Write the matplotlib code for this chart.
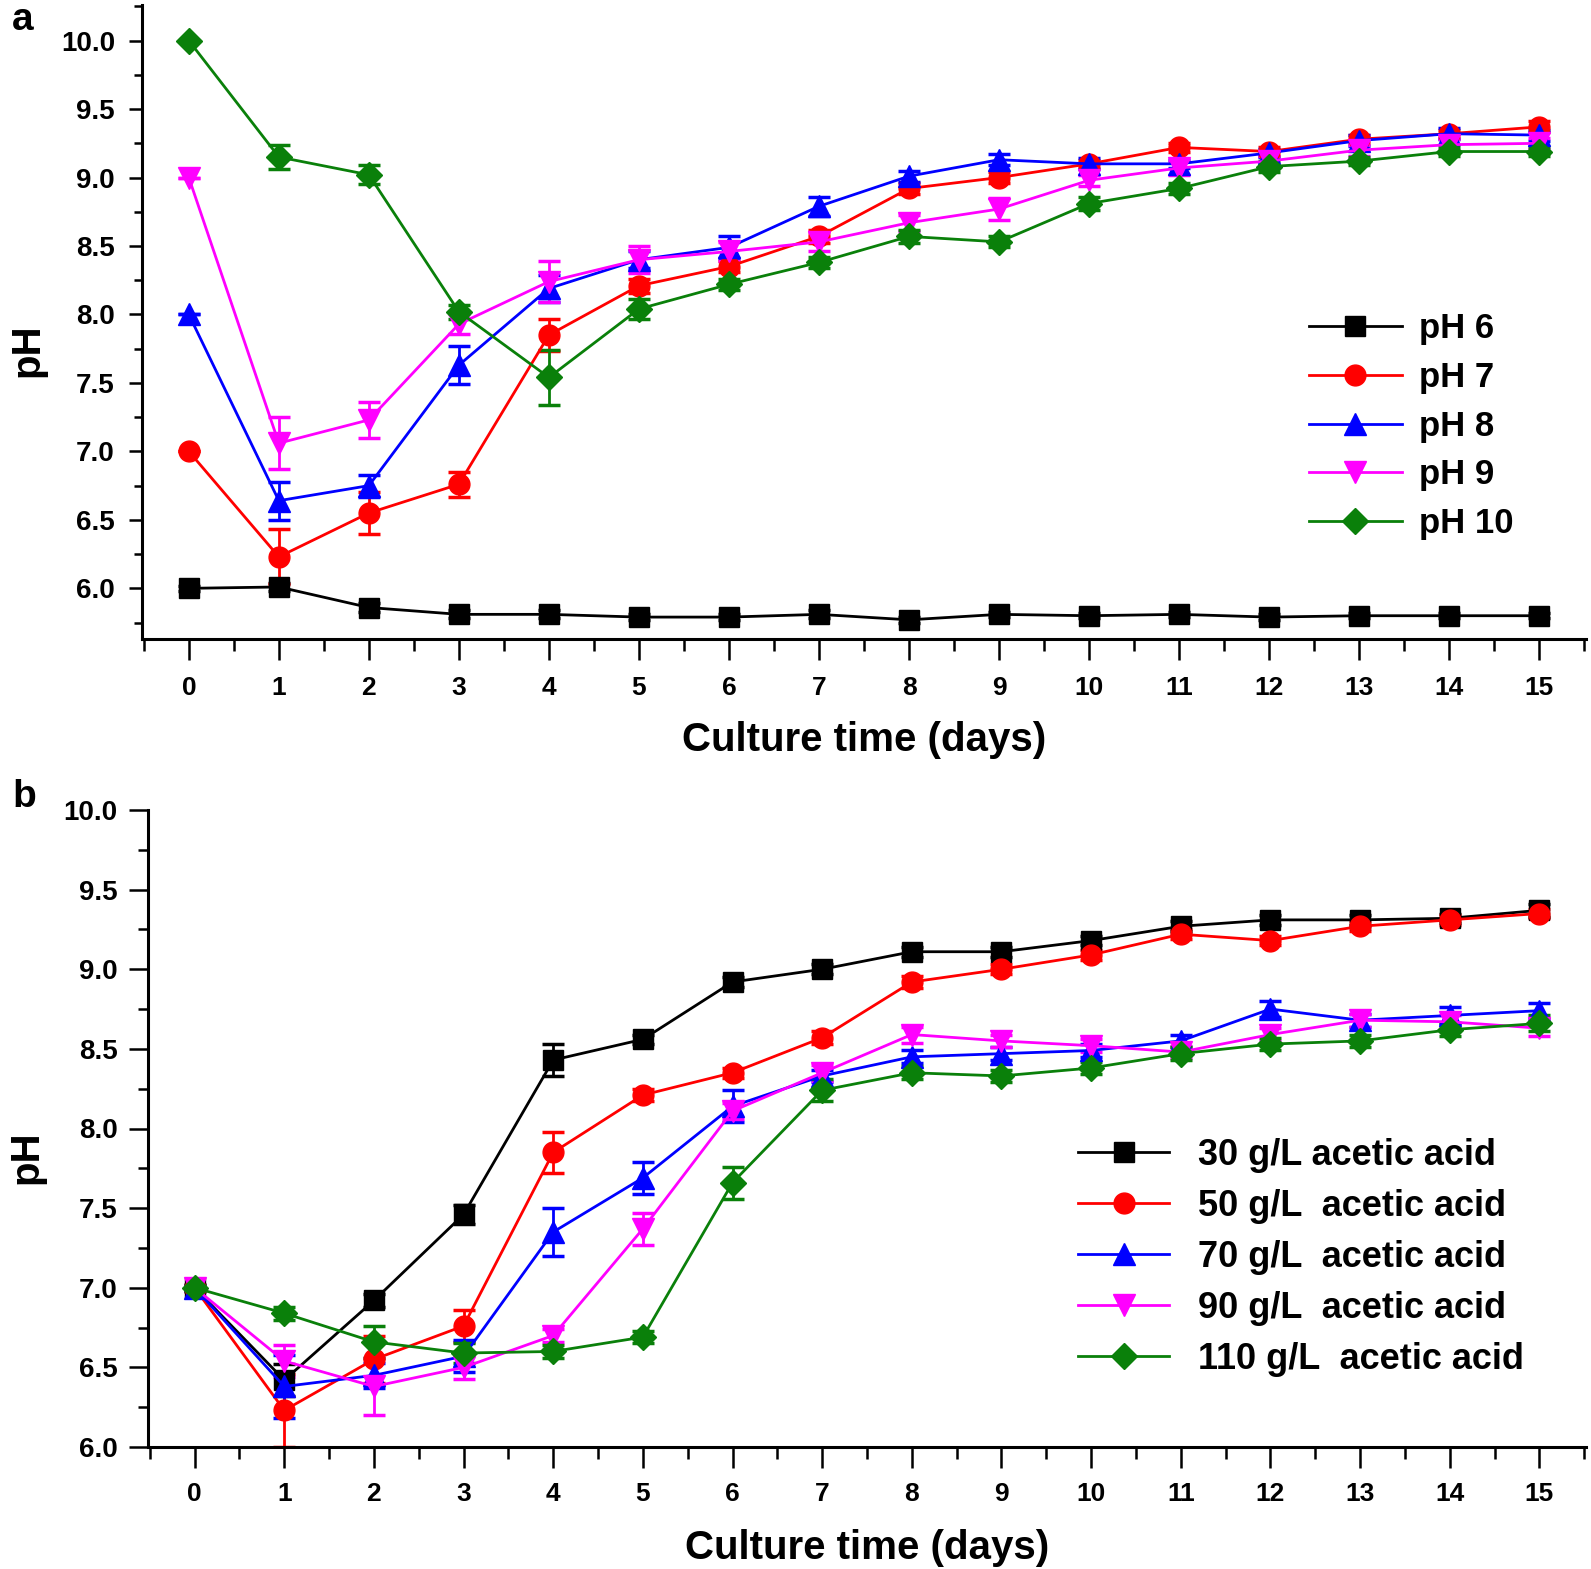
import matplotlib
matplotlib.use('Agg')
import matplotlib.pyplot as plt
from matplotlib.ticker import MultipleLocator

plt.rcParams['font.family'] = ['Liberation Sans', 'DejaVu Sans']

days = list(range(16))

# ---------------- Panel a data ----------------
ph_labels = ['pH 6', 'pH 7', 'pH 8', 'pH 9', 'pH 10']
ph6 = [6.00, 6.01, 5.86, 5.81, 5.81, 5.79, 5.79, 5.81, 5.77, 5.81, 5.80, 5.81, 5.79, 5.80, 5.80, 5.80]
ph7 = [7.00, 6.23, 6.55, 6.76, 7.85, 8.21, 8.35, 8.57, 8.92, 9.00, 9.10, 9.22, 9.19, 9.28, 9.32, 9.37]
ph8 = [8.00, 6.64, 6.75, 7.63, 8.19, 8.40, 8.49, 8.79, 9.01, 9.13, 9.10, 9.10, 9.18, 9.27, 9.32, 9.31]
ph9 = [9.00, 7.06, 7.23, 7.93, 8.24, 8.40, 8.46, 8.53, 8.67, 8.77, 8.98, 9.07, 9.12, 9.20, 9.24, 9.25]
ph10 = [10.00, 9.15, 9.02, 8.02, 7.54, 8.04, 8.22, 8.38, 8.57, 8.53, 8.81, 8.92, 9.08, 9.12, 9.19, 9.19]

ph6_err = [0.02, 0.03, 0.03, 0.03, 0.03, 0.02, 0.02, 0.03, 0.02, 0.02, 0.02, 0.02, 0.02, 0.02, 0.02, 0.02]
ph7_err = [0.00, 0.20, 0.15, 0.09, 0.12, 0.05, 0.04, 0.05, 0.04, 0.04, 0.03, 0.03, 0.03, 0.03, 0.03, 0.04]
ph8_err = [0.00, 0.14, 0.08, 0.14, 0.10, 0.06, 0.08, 0.07, 0.04, 0.04, 0.04, 0.03, 0.03, 0.04, 0.04, 0.04]
ph9_err = [0.00, 0.19, 0.13, 0.07, 0.15, 0.10, 0.07, 0.07, 0.06, 0.08, 0.04, 0.05, 0.04, 0.04, 0.04, 0.04]
ph10_err = [0.00, 0.09, 0.07, 0.05, 0.20, 0.07, 0.04, 0.04, 0.05, 0.04, 0.05, 0.04, 0.04, 0.03, 0.03, 0.03]

# ---------------- Panel b data ----------------
ac_labels = ['30 g/L acetic acid', '50 g/L  acetic acid', '70 g/L  acetic acid',
             '90 g/L  acetic acid', '110 g/L  acetic acid']
ac30 = [7.00, 6.42, 6.92, 7.46, 8.43, 8.56, 8.92, 9.00, 9.11, 9.11, 9.18, 9.27, 9.31, 9.31, 9.32, 9.37]
ac50 = [7.00, 6.23, 6.55, 6.76, 7.85, 8.21, 8.35, 8.57, 8.92, 9.00, 9.09, 9.22, 9.18, 9.27, 9.31, 9.35]
ac70 = [7.00, 6.38, 6.45, 6.57, 7.35, 7.69, 8.14, 8.33, 8.45, 8.47, 8.49, 8.55, 8.75, 8.68, 8.71, 8.74]
ac90 = [7.00, 6.54, 6.38, 6.50, 6.70, 7.37, 8.11, 8.35, 8.59, 8.55, 8.52, 8.48, 8.59, 8.68, 8.67, 8.63]
ac110 = [7.00, 6.84, 6.66, 6.59, 6.60, 6.69, 7.66, 8.24, 8.35, 8.33, 8.38, 8.47, 8.53, 8.55, 8.62, 8.66]

ac30_err = [0.02, 0.10, 0.04, 0.06, 0.10, 0.03, 0.03, 0.03, 0.03, 0.03, 0.03, 0.03, 0.03, 0.03, 0.03, 0.04]
ac50_err = [0.02, 0.23, 0.15, 0.10, 0.13, 0.04, 0.03, 0.04, 0.04, 0.03, 0.03, 0.03, 0.03, 0.03, 0.03, 0.03]
ac70_err = [0.02, 0.20, 0.08, 0.10, 0.15, 0.10, 0.10, 0.04, 0.04, 0.04, 0.04, 0.04, 0.05, 0.04, 0.05, 0.05]
ac90_err = [0.02, 0.10, 0.18, 0.07, 0.04, 0.10, 0.05, 0.05, 0.05, 0.04, 0.04, 0.04, 0.04, 0.04, 0.04, 0.05]
ac110_err = [0.02, 0.04, 0.10, 0.06, 0.04, 0.04, 0.10, 0.07, 0.04, 0.04, 0.04, 0.04, 0.04, 0.04, 0.04, 0.05]

xticks = list(range(16))

colors = ['#000000', '#ff0000', '#0000ff', '#ff00ff', '#0a800a']
markers = ['s', 'o', '^', 'v', 'D']
msizes = [14, 15, 16, 16, 13]

W, H = 1591, 1569
fig = plt.figure(figsize=(W / 100, H / 100), dpi=100)

ax_a = fig.add_axes([142 / W, 1 - 639 / H, (1586 - 142) / W, (639 - 5) / H])
ax_b = fig.add_axes([148 / W, 1 - 1447 / H, (1586 - 148) / W, (1447 - 810) / H])


def draw(ax, series, errs, labels):
    handles = []
    for y, e, c, m, ms, lab in zip(series, errs, colors, markers, msizes, labels):
        ax.errorbar(days, y, yerr=e, fmt='none', ecolor=c, elinewidth=2.0,
                    capsize=8, capthick=2.5, zorder=2)
        ln, = ax.plot(days, y, color=c, lw=2.0, marker=m, ms=ms,
                      mfc=c, mec=c, label=lab, zorder=3)
        handles.append(ln)
    return handles


ha = draw(ax_a, [ph6, ph7, ph8, ph9, ph10],
          [ph6_err, ph7_err, ph8_err, ph9_err, ph10_err], ph_labels)
hb = draw(ax_b, [ac30, ac50, ac70, ac90, ac110],
          [ac30_err, ac50_err, ac70_err, ac90_err, ac110_err], ac_labels)

ax_a.set_ylim(5.63, 10.26)
ax_b.set_ylim(6.0, 10.0)

for ax, ymaj_len, ymin_len, ypad, xpad in [(ax_a, 9.5, 6, 10, 12), (ax_b, 14, 7, 8, 10)]:
    ax.set_xlim(-0.52, 15.52)
    ax.set_xticks(xticks)
    ax.xaxis.set_minor_locator(MultipleLocator(0.5))
    ax.yaxis.set_major_locator(MultipleLocator(0.5))
    ax.yaxis.set_minor_locator(MultipleLocator(0.25))
    ax.yaxis.set_major_formatter(plt.FormatStrFormatter('%.1f'))
    for s in ['top', 'right']:
        ax.spines[s].set_visible(False)
    for s in ['left', 'bottom']:
        ax.spines[s].set_linewidth(2.2)
    ax.tick_params(axis='x', which='major', direction='out', length=15, width=1.8,
                   pad=xpad, labelsize=19)
    ax.tick_params(axis='x', which='minor', direction='out', length=8.5, width=1.8)
    ax.tick_params(axis='y', which='major', direction='out', length=ymaj_len, width=1.8,
                   pad=ypad, labelsize=20)
    ax.tick_params(axis='y', which='minor', direction='out', length=ymin_len, width=1.8)
    for t in ax.get_yticklabels() + ax.get_xticklabels():
        t.set_fontweight('bold')
    ax.set_ylabel('pH', fontsize=29, fontweight='bold')

ax_a.set_xlabel('Culture time (days)', fontsize=29, fontweight='bold', labelpad=15)
ax_b.set_xlabel('Culture time (days)', fontsize=29, fontweight='bold', labelpad=17)

ax_a.yaxis.set_label_coords(-0.066, 0.456)
ax_b.yaxis.set_label_coords(-0.071, 0.455)

ax_a.legend(handles=ha, loc='upper left', bbox_to_anchor=(0.808, 0.515),
            frameon=False, prop={'size': 25, 'weight': 'bold'},
            handlelength=2.68, handletextpad=0.49, labelspacing=0.45,
            borderpad=0, borderaxespad=0)
ax_b.legend(handles=hb, loc='upper left', bbox_to_anchor=(0.647, 0.485),
            frameon=False, prop={'size': 26, 'weight': 'bold'},
            handlelength=2.52, handletextpad=0.78, labelspacing=0.44,
            borderpad=0, borderaxespad=0)

fig.text(12 / W, 1 - 20 / H, 'a', fontsize=28, fontweight='bold', va='center', ha='left')
fig.text(12 / W, 1 - 797 / H, 'b', fontsize=28, fontweight='bold', va='center', ha='left')

fig.savefig('out.png', dpi=100)
